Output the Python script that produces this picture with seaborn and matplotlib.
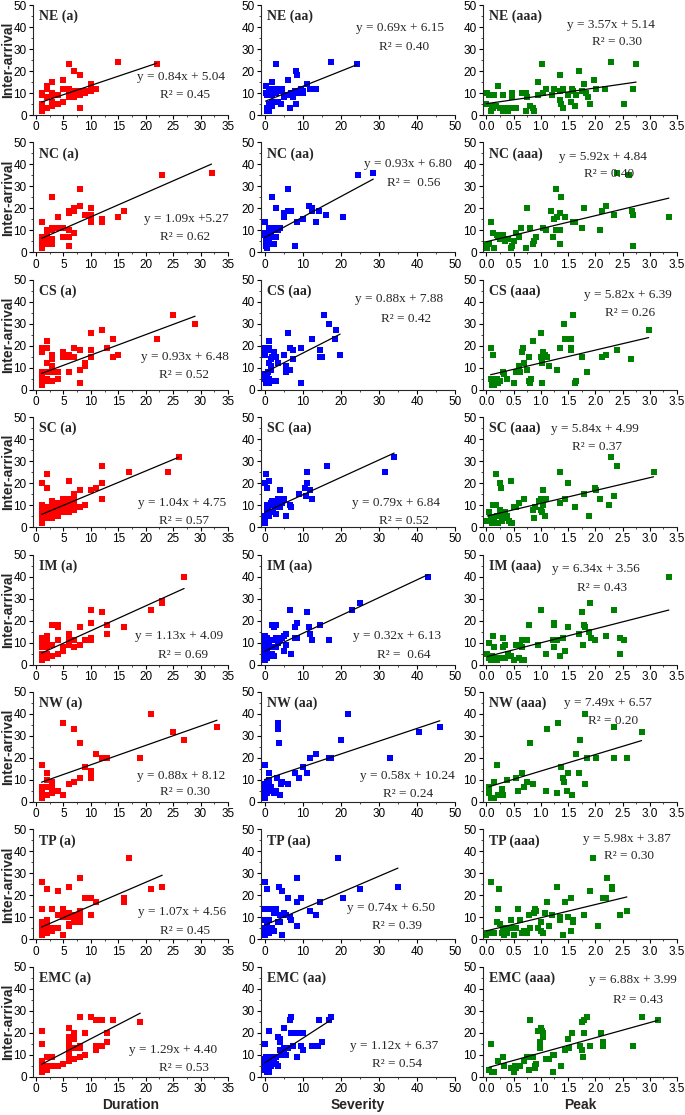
import numpy as np
import pandas as pd
import matplotlib
matplotlib.use("Agg")
import matplotlib.pyplot as plt
from matplotlib.ticker import AutoMinorLocator
import seaborn as sns

# ---------------- data ----------------
regions = ["NE", "NC", "CS", "SC", "IM", "NW", "TP", "EMC"]
metrics = ["Duration", "Severity", "Peak"]
tags = ["(a)", "(aa)", "(aaa)"]
colors = ["#ff0000", "#0000ff", "#008000"]

x_ticks_dur = [0, 5, 10, 15, 20, 25, 30, 35]
x_ticks_sev = [0, 10, 20, 30, 40, 50]
x_ticks_peak = [0.0, 0.5, 1.0, 1.5, 2.0, 2.5, 3.0, 3.5]
y_ticks = [0, 10, 20, 30, 40, 50]

# printed regression equations
dur_slope = [0.84, 1.09, 0.93, 1.04, 1.13, 0.88, 1.07, 1.29]
dur_int = [5.04, 5.27, 6.48, 4.75, 4.09, 8.12, 4.56, 4.40]
dur_r2 = [0.45, 0.62, 0.52, 0.57, 0.69, 0.30, 0.45, 0.53]
sev_slope = [0.69, 0.93, 0.88, 0.79, 0.32, 0.58, 0.74, 1.12]
sev_int = [6.15, 6.80, 7.88, 6.84, 6.13, 10.24, 6.50, 6.37]
sev_r2 = [0.40, 0.56, 0.42, 0.52, 0.64, 0.24, 0.39, 0.54]
peak_slope = [3.57, 5.92, 5.82, 5.84, 6.34, 7.49, 5.98, 6.88]
peak_int = [5.14, 4.84, 6.39, 4.99, 3.56, 6.57, 3.87, 3.99]
peak_r2 = [0.30, 0.40, 0.26, 0.37, 0.43, 0.20, 0.30, 0.43]
# drawn trend lines (as they appear; IM severity line differs from its label)
sev_line_slope = [0.69, 0.93, 0.88, 0.79, 0.81, 0.58, 0.74, 1.12]

ne_dur = [(1,10),(1,9),(1,5),(1,4),(1,3),(1,2),(2,13),(2,12),(2,8),(2,3),(3,15),(3,10),(3,9),(3,6),(3,5),(3,4),
          (4,9),(4,5),(5,16),(5,12),(5,6),(6,23),(6,12),(6,11),(6,10),(6,9),(6,8),(7,20),(7,11),(7,10),(7,9),(7,8),
          (8,18),(8,11),(8,10),(8,9),(8,3),(9,11),(9,10),(10,14),(10,12),(10,11),(11,12),(15,24),(22,23)]
ne_sev = [(0.2,13),(0.3,10),(0.5,9),(0.5,3),(0.7,2),(1,12),(1,11),(1,5),(1.2,2),(1.5,10),(1.8,15),(2,12),(2,9),(2,6),
          (2,4),(2.5,12),(2.8,11),(3,23),(3,10),(3.5,6),(3.8,12),(4,11),(4.3,5),(4.6,12),(5,8),(5.5,9),(6,16),(6,9),
          (6.5,3),(7,10),(7.5,8),(8,11),(8.2,5),(8.3,20),(8.5,18),(9,10),(9.5,12),(10,10),(10,11),(11,14),(12,12),
          (13.5,12),(17.3,24),(24.2,23)]
ne_peak = [(0.0,5),(0.02,10),(0.05,9),(0.08,2),(0.1,4),(0.12,3),(0.15,9),(0.18,4),(0.22,13),(0.25,3),(0.3,9),(0.3,2),
           (0.35,3),(0.4,2),(0.45,3),(0.48,10),(0.47,8),(0.55,3),(0.65,10),(0.72,10),(0.73,2),(0.75,8),(0.8,4),
           (0.85,3),(0.88,2),(0.95,15),(0.95,9),(1.02,23),(1.05,10),(1.1,12),(1.2,9),(1.25,12),(1.35,18),(1.35,11),
           (1.36,7),(1.38,5),(1.4,3),(1.4,12),(1.5,9),(1.55,6),(1.58,12),(1.6,11),(1.62,4),(1.65,9),(1.7,20),
           (1.75,11),(1.8,14),(1.83,10),(1.87,8),(1.9,5),(1.97,16),(2.02,12),(2.18,12),(2.28,24),(2.52,5),(2.7,12),
           (2.75,23)]

nc_dur = [(1,14),(1,7),(1,6),(1,5),(1,4),(1,3),(1,2),(2,10),(2,9),(2,7),(2,5),(2,4),(3,25),(3,11),(3,10),(3,6),(3,5),
          (3,4),(4,16),(4,11),(5,11),(5,7),(6,19),(6,18),(6,10),(6,7),(6,3),(7,20),(7,19),(7,9),(8,29),(8,21),(9,17),
          (10,20),(10,17),(10,15),(10,14),(12,15),(12,14),(15,16),(16,19),(23,35),(32,36)]
nc_sev = [(0,14),(0,9),(0,8),(0.2,7),(0.3,5),(0.3,3),(0.5,2),(0.8,4),(1,11),(1,9),(1,6),(1.5,8),(2,25),(2,10),(2,7),
          (2.5,11),(2.5,4),(3,20),(3,10),(3,7),(3.5,10),(4,11),(5,18),(5,16),(5,17),(6,29),(6,19),(7,19),(8,3),
          (8.5,14),(10,15),(11.5,21),(12.3,20),(12.5,19),(13.5,14),(14.3,19),(16,17),(20.5,16),(24.5,35),(28.5,36)]
nc_peak = [(0.0,4),(0.0,3),(0.02,2),(0.05,4),(0.08,14),(0.12,9),(0.15,2),(0.2,8),(0.22,7),(0.25,6),(0.3,8),(0.35,5),
           (0.4,6),(0.45,2),(0.48,3),(0.5,5),(0.55,9),(0.6,7),(0.63,11),(0.73,2),(0.75,20),(0.8,11),(0.85,4),
           (0.87,5),(0.92,7),(1.05,11),(1.1,10),(1.18,19),(1.22,7),(1.25,15),(1.28,29),(1.3,16),(1.28,10),(1.35,10),
           (1.35,18),(1.35,4),(1.38,25),(1.45,16),(1.6,14),(1.63,14),(1.75,11),(1.8,20),(2.08,10),(2.12,19),
           (2.2,21),(2.35,17),(2.4,36),(2.62,35),(2.68,19),(2.7,17),(2.7,3),(3.35,16)]

cs_dur = [(1,19),(1,18),(1,17),(1,8),(1,6),(1,5),(1,4),(1,3),(1,2),(2,22),(2,19),(2,12),(2,8),(2,5),(2,4),(3,16),
          (3,15),(3,14),(3,11),(3,10),(3,8),(3,4),(4,8),(4,5),(5,17),(5,15),(6,16),(6,15),(6,8),(7,19),(7,15),(8,18),
          (8,9),(8,3),(9,12),(9,11),(10,26),(10,18),(10,15),(12,27),(13,19),(14,23),(14,15),(15,16),(22,23),(25,34),
          (29,30)]
cs_sev = [(0,19),(0,17),(0,16),(0,7),(0,5),(0.2,3),(0.3,4),(0.5,6),(0.8,19),(0.8,8),(1,22),(1,18),(1,12),(1,5),(1,3),
          (1.2,19),(1.5,14),(1.5,11),(1.5,9),(1.5,4),(2,15),(2.5,17),(3,15),(3,4),(3.5,12),(5,16),(5.5,11),(5.5,8),
          (6,26),(6.5,19),(6.5,9),(7.5,14),(7.5,18),(9.5,19),(9.5,3),(12.3,23),(14.5,18),(14.5,15),(15,15),
          (15.5,34),(16.8,30),(18.5,23),(18.8,27),(19.8,16)]
cs_peak = [(0.08,19),(0.08,5),(0.1,2),(0.12,16),(0.15,2),(0.2,5),(0.22,3),(0.25,4),(0.3,8),(0.32,7),(0.38,5),(0.5,3),
           (0.55,8),(0.6,11),(0.62,8),(0.65,17),(0.68,19),(0.7,12),(0.75,9),(0.78,4),(0.78,15),(0.8,3),(0.82,5),
           (0.85,22),(1.0,26),(1.0,15),(1.02,12),(1.02,3),(1.05,17),(1.08,16),(1.12,15),(1.15,11),(1.3,9),(1.35,19),
           (1.42,30),(1.45,23),(1.5,23),(1.55,23),(1.55,18),(1.55,19),(1.6,34),(1.62,3),(1.65,4),(1.75,15),(1.85,8),
           (2.12,15),(2.2,16),(2.4,18),(2.65,14),(2.98,27)]

sc_dur = [(1,20),(1,10),(1,9),(1,8),(1,7),(1,6),(1,5),(1,4),(1,3),(1,2),(2,24),(2,18),(2,9),(2,7),(2,5),(2,4),(3,12),
          (3,10),(3,8),(3,6),(3,4),(4,11),(4,9),(4,7),(4,5),(5,13),(5,11),(5,9),(5,7),(6,21),(6,13),(6,11),(6,9),
          (6,7),(7,15),(7,13),(7,11),(7,9),(7,8),(8,17),(8,9),(9,10),(10,17),(11,18),(12,28),(12,20),(12,13),
          (17,25),(24,25),(26,32)]
sc_sev = [(0,20),(0,5),(0,4),(0,3),(0,2),(0.2,24),(0.5,18),(0.5,10),(0.5,8),(0.8,9),(1,7),(1,5),(1.2,21),(1.5,11),
          (1.8,10),(2,12),(2.2,7),(2.5,12),(2.8,9),(3,6),(3,11),(3.5,13),(4,17),(4,13),(4,9),(4.5,11),(5,13),(5.5,5),
          (6.5,10),(7,9),(9,15),(10.5,18),(10.8,14),(11,25),(11.2,20),(11.8,17),(12.5,13),(16.3,28),(31.5,25),(34,32)]
sc_peak = [(0.02,3),(0.05,7),(0.08,4),(0.1,2),(0.12,10),(0.15,3),(0.18,10),(0.18,24),(0.2,5),(0.22,2),(0.25,8),
           (0.25,20),(0.27,18),(0.28,3),(0.3,5),(0.32,4),(0.35,7),(0.38,5),(0.42,3),(0.45,2),(0.45,21),(0.48,2),
           (0.5,9),(0.55,9),(0.6,11),(0.7,13),(0.85,8),(0.87,4),(0.9,9),(0.97,12),(1.0,13),(1.0,8),(1.02,7),(1.05,10),
           (1.05,17),(1.08,5),(1.1,13),(1.35,11),(1.35,25),(1.45,13),(1.5,20),(1.62,9),(1.8,15),(1.88,5),(2.0,18),
           (2.02,17),(2.08,13),(2.25,10),(2.28,32),(2.35,14),(2.4,28),(3.07,25)]

im_dur = [(1,12),(1,11),(1,10),(1,9),(1,8),(1,5),(1,4),(1,3),(1,2),(2,13),(2,12),(2,11),(2,10),(2,9),(2,8),(2,5),
          (2,4),(2,3),(3,18),(3,9),(3,4),(4,18),(4,17),(4,11),(4,5),(5,8),(5,7),(5,6),(6,14),(6,12),(6,11),(6,10),
          (6,9),(7,11),(7,8),(8,17),(8,9),(9,11),(10,25),(10,19),(10,12),(10,11),(12,24),(13,18),(13,14),(16,17),
          (21,25),(23,28),(23,29),(27,40)]
im_sev = [(0,13),(0,12),(0,11),(0,10),(0,9),(0,7),(0,5),(0,4),(0,3),(0,2),(0.5,12),(0.5,6),(0.5,3),(0.8,11),(1,10),
          (1,9),(1,4),(1.5,8),(2,18),(2,11),(2,5),(2.5,17),(2.5,4),(3,18),(3,12),(3,11),(3,8),(3.5,10),(4,11),
          (4.5,12),(5,13),(5,6),(5.5,14),(5.5,9),(6.5,25),(7,5),(8,17),(8,12),(8.5,19),(8.5,12),(11,24),(11.5,17),
          (12,14),(12.5,11),(14.5,18),(17,11),(23,25),(25,28),(43,40)]
im_peak = [(0.02,5),(0.05,10),(0.05,3),(0.08,2),(0.1,4),(0.12,13),(0.15,3),(0.15,8),(0.2,2),(0.25,3),(0.3,8),(0.3,12),
           (0.35,9),(0.35,3),(0.4,5),(0.45,4),(0.5,2),(0.55,9),(0.6,3),(0.62,9),(0.65,8),(0.65,11),(0.65,2),(0.7,2),
           (0.75,11),(0.78,18),(0.95,9),(1.0,25),(1.1,5),(1.22,11),(1.25,8),(1.25,19),(1.25,18),(1.3,11),(1.35,4),
           (1.4,12),(1.45,6),(1.5,17),(1.7,14),(1.75,24),(1.78,9),(1.8,18),(1.82,17),(1.88,15),(1.9,28),(1.92,12),
           (2.0,11),(2.2,13),(2.35,25),(2.45,12),(2.45,5),(2.52,11),(3.35,40)]

nw_dur = [(1,17),(1,7),(1,5),(1,4),(1,3),(1,2),(2,13),(2,10),(2,7),(2,3),(3,9),(3,7),(3,6),(3,5),(3,4),(4,5),(5,36),
          (5,3),(6,8),(7,33),(7,9),(8,27),(8,11),(9,16),(10,14),(10,13),(10,12),(10,11),(11,22),(12,20),(13,20),
          (19,20),(21,40),(25,32),(27,28),(33,34)]
nw_sev = [(0,17),(0,8),(0,7),(0,5),(0,3),(0,2),(0.3,6),(0.5,9),(0.5,4),(1,10),(1,8),(1,6),(1.2,13),(1.5,7),(1.5,5),
          (2,5),(2.5,4),(3,5),(3.3,11),(3.5,36),(3.5,33),(3.8,27),(4,3),(4.2,8),(4.5,9),(6,8),(8,13),(9,11),(10,16),
          (11,13),(12,20),(13.5,22),(17,20),(17.5,20),(20,28),(22,40),(33,20),(40.5,32),(46,34)]
nw_peak = [(0.05,7),(0.05,4),(0.08,2),(0.1,2),(0.15,9),(0.15,2),(0.2,17),(0.22,3),(0.28,6),(0.3,3),(0.38,10),(0.55,11),
           (0.58,5),(0.65,13),(0.7,7),(0.75,9),(0.8,27),(0.85,8),(1.1,5),(1.12,33),(1.3,4),(1.32,36),(1.38,16),
           (1.4,11),(1.42,9),(1.48,5),(1.5,13),(1.58,3),(1.65,22),(1.7,13),(1.72,28),(1.82,40),(1.82,8),(1.85,20),
           (2.02,20),(2.35,34),(2.35,20),(2.58,20),(2.85,32)]

tp_dur = [(1,26),(1,14),(1,8),(1,5),(1,4),(1,3),(1,2),(2,23),(2,9),(2,8),(2,5),(2,4),(2,3),(3,14),(3,5),(3,4),(4,22),
          (4,11),(4,5),(5,14),(5,11),(5,10),(5,2),(6,24),(6,12),(6,10),(6,7),(6,6),(7,11),(7,9),(7,8),(8,28),(8,13),
          (8,11),(8,10),(8,9),(8,8),(9,19),(10,19),(10,11),(11,17),(16,19),(16,18),(16,17),(17,37),(21,23),(23,24)]
tp_sev = [(0,26),(0,14),(0,9),(0,5),(0,3),(0,2),(0.5,23),(0.5,8),(0.8,14),(1,9),(1,5),(1,3),(1.5,14),(1.5,4),(2,5),
          (2.5,4),(2.5,12),(3,13),(3,14),(3.5,8),(3.8,24),(4,11),(4,8),(4.5,22),(4.5,2),(5,12),(5.5,11),(6,19),
          (6.5,10),(7,9),(8.5,17),(8.5,28),(8.5,6),(9.5,19),(12,13),(13.5,11),(14.5,17),(19.2,37),(20.5,19),(25,23),
          (35,24)]
tp_peak = [(0.0,2),(0.02,3),(0.08,26),(0.1,3),(0.15,3),(0.2,8),(0.22,14),(0.23,23),(0.25,7),(0.28,3),(0.3,5),(0.32,2),
           (0.35,4),(0.38,3),(0.4,5),(0.45,9),(0.48,5),(0.5,2),(0.55,5),(0.58,14),(0.62,9),(0.65,3),(0.7,4),(0.75,3),
           (0.78,11),(0.8,5),(0.88,12),(0.9,14),(0.92,13),(0.95,5),(1.0,8),(1.0,4),(1.05,3),(1.08,12),(1.12,17),
           (1.15,6),(1.2,11),(1.3,24),(1.35,10),(1.35,9),(1.4,2),(1.45,17),(1.5,10),(1.55,4),(1.55,19),(1.6,9),
           (1.6,8),(1.8,11),(1.9,22),(1.95,37),(2.05,6),(2.15,19),(2.2,19),(2.22,28),(2.3,24),(2.3,23),(2.45,11),
           (2.58,13)]

emc_dur = [(1,21),(1,15),(1,7),(1,6),(1,5),(1,4),(1,3),(1,2),(2,9),(2,5),(2,4),(2,3),(3,9),(3,5),(4,5),(5,6),(6,22),
           (6,18),(6,17),(6,16),(6,15),(6,14),(6,13),(6,12),(6,11),(6,10),(6,9),(6,8),(6,7),(7,20),(7,17),(7,13),
           (7,8),(8,27),(8,14),(8,13),(8,9),(9,20),(9,10),(10,27),(11,26),(11,14),(11,13),(11,12),(12,26),(12,14),
           (13,20),(13,16),(14,26),(19,25)]
emc_sev = [(0,15),(0,8),(0,6),(0,4),(0,3),(0.2,9),(0.5,5),(0.5,2),(0.8,7),(1,21),(1,9),(1,6),(1,3),(1,2),(1.5,8),
           (1.5,5),(2,9),(2,7),(2.5,8),(3,9),(3,6),(3.5,18),(3.5,5),(4,17),(4,16),(4,12),(4.5,10),(5,22),(5,13),
           (5,11),(5.5,10),(6,13),(6.5,26),(7,20),(7,27),(7.5,20),(7.5,14),(8.5,9),(9,20),(9.5,14),(10,20),(10,12),
           (12.5,14),(14,14),(14.2,26),(15,16),(17,26),(17.5,27)]
emc_peak = [(0.05,3),(0.08,15),(0.1,2),(0.12,2),(0.15,2),(0.22,7),(0.3,9),(0.32,5),(0.45,4),(0.5,3),(0.5,2),(0.52,5),
            (0.55,4),(0.62,5),(0.7,7),(0.75,9),(0.78,3),(0.8,26),(0.85,9),(0.9,4),(0.9,5),(0.92,6),(0.95,21),
            (0.98,16),(0.98,13),(1.0,22),(1.02,21),(1.05,18),(1.05,20),(1.1,8),(1.15,8),(1.22,10),(1.22,2),(1.25,10),
            (1.38,5),(1.45,12),(1.5,17),(1.52,13),(1.58,20),(1.72,14),(1.75,12),(1.75,25),(1.78,9),(1.8,20),(1.8,26),
            (1.85,27),(1.9,14),(2.1,20),(2.15,16),(2.15,15),(2.15,14),(2.7,14),(2.85,27),(3.15,26)]

panel_data = [
    [ne_dur, ne_sev, ne_peak],
    [nc_dur, nc_sev, nc_peak],
    [cs_dur, cs_sev, cs_peak],
    [sc_dur, sc_sev, sc_peak],
    [im_dur, im_sev, im_peak],
    [nw_dur, nw_sev, nw_peak],
    [tp_dur, tp_sev, tp_peak],
    [emc_dur, emc_sev, emc_peak],
]

# ---------------- layout (pixels / axes fractions) ----------------
W, H = 685, 1115
col_left = [33, 261, 483]
col_width = [195, 194, 194]
row_top0, row_pitch, ax_h = 5, 137.4, 110
xlims = [(-0.55, 35), (-1.0, 50), (-0.06, 3.5)]
xticks_all = [x_ticks_dur, x_ticks_sev, x_ticks_peak]

eq_pos = [
    [(0.76, 0.345, 0.78, 0.18), (0.716, 0.79, 0.74, 0.62), (0.66, 0.82, 0.69, 0.66)],
    [(0.787, 0.30, 0.78, 0.136), (0.755, 0.80, 0.785, 0.634), (0.616, 0.87, 0.65, 0.71)],
    [(0.778, 0.30, 0.774, 0.136), (0.712, 0.825, 0.75, 0.643), (0.747, 0.86, 0.758, 0.70)],
    [(0.762, 0.22, 0.774, 0.054), (0.697, 0.22, 0.735, 0.054), (0.577, 0.894, 0.589, 0.725)],
    [(0.75, 0.257, 0.77, 0.09), (0.703, 0.257, 0.735, 0.09), (0.584, 0.87, 0.611, 0.70)],
    [(0.762, 0.236, 0.78, 0.09), (0.753, 0.236, 0.757, 0.07), (0.645, 0.897, 0.668, 0.736)],
    [(0.762, 0.253, 0.78, 0.08), (0.672, 0.283, 0.70, 0.12), (0.74, 0.91, 0.75, 0.76)],
    [(0.72, 0.245, 0.773, 0.08), (0.686, 0.284, 0.70, 0.116), (0.773, 0.878, 0.80, 0.70)],
]

# ---------------- style ----------------
sns.set_style("ticks")
plt.rcParams["font.family"] = ["Liberation Sans", "DejaVu Sans"]
plt.rcParams["axes.linewidth"] = 0.8
SERIF = ["Liberation Serif", "DejaVu Serif"]

fig = plt.figure(figsize=(W / 100, H / 100), dpi=100)

slopes = [dur_slope, sev_line_slope, peak_slope]
lab_slopes = [dur_slope, sev_slope, peak_slope]
ints = [dur_int, sev_int, peak_int]
r2s = [dur_r2, sev_r2, peak_r2]

for r, reg in enumerate(regions):
    top = row_top0 + row_pitch * r
    for c in range(3):
        ax = fig.add_axes([col_left[c] / W, 1 - (top + ax_h) / H, col_width[c] / W, ax_h / H])
        df = pd.DataFrame(panel_data[r][c], columns=["x", "y"])
        sns.scatterplot(data=df, x="x", y="y", ax=ax, marker="s", s=17, color=colors[c],
                        linewidth=0, zorder=2, clip_on=False)
        xs = np.array([df["x"].min(), df["x"].max()])
        ax.plot(xs, slopes[c][r] * xs + ints[c][r], color="black", lw=0.9, zorder=3)

        ax.set_xlim(*xlims[c])
        ax.set_ylim(0, 50)
        ax.set_xticks(xticks_all[c])
        if c == 2:
            ax.set_xticklabels([f"{t:.1f}" for t in xticks_all[c]])
        ax.set_yticks(y_ticks)
        ax.xaxis.set_minor_locator(AutoMinorLocator(2))
        ax.yaxis.set_minor_locator(AutoMinorLocator(2))
        ax.tick_params(axis="both", which="major", direction="out", length=3, width=0.8,
                       labelsize=8.5, pad=1.5, colors="black")
        ax.tick_params(axis="both", which="minor", direction="out", length=1.5, width=0.6)
        ax.set_xlabel("")
        ax.set_ylabel("")
        sns.despine(ax=ax)

        ax.text(0.03, 0.895, f"{reg} {tags[c]}", transform=ax.transAxes, ha="left", va="center",
                fontsize=10, fontweight="bold", family=SERIF)
        s, b = lab_slopes[c][r], ints[c][r]
        if reg == "NC" and c == 0:
            eq = f"y = {s:.2f}x +{b:.2f}"
        else:
            eq = f"y = {s:.2f}x + {b:.2f}"
        r2txt = f"R² = {r2s[c][r]:.2f}"
        if (reg == "NC" and c == 1) or (reg == "IM" and c == 1):
            r2txt = f"R² =  {r2s[c][r]:.2f}"
        ex, ey, rx, ry = eq_pos[r][c]
        ax.text(ex, ey, eq, transform=ax.transAxes, ha="center", va="center", fontsize=9.5, family=SERIF)
        ax.text(rx, ry, r2txt, transform=ax.transAxes, ha="center", va="center", fontsize=9.5, family=SERIF)

    fig.text(8 / W, 1 - (top + ax_h / 2) / H, "Inter-arrival", rotation=90, ha="center", va="center",
             fontsize=10, fontweight="bold")

for c, m in enumerate(metrics):
    fig.text((col_left[c] + col_width[c] / 2) / W, 1 - 1105 / H, m, ha="center", va="center",
             fontsize=10, fontweight="bold")

fig.savefig("out.png", dpi=100)
